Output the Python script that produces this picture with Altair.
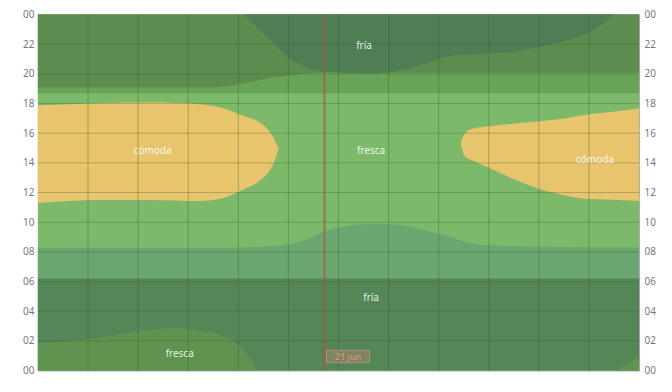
import altair as alt
import pandas as pd

MONTHS = ["ene.", "feb.", "mar.", "abr.", "may.", "jun.", "jul.", "ago.", "sep.", "oct.", "nov.", "dic."]
MONTH_CENTERS = [i + 0.5 for i in range(12)]
HOUR_TICKS = list(range(0, 25, 2))
MONTH_BOUNDS = list(range(1, 12))
HOUR_GRID = list(range(2, 24, 2))

# cómoda, left blob (x in months from 1 Jan, hours)
com1_x = [0, 1.23, 2.23, 3.22, 3.70, 4.12, 4.42, 4.62, 4.74, 4.80]
com1_top = [17.88, 18.02, 18.08, 17.95, 17.68, 17.14, 16.74, 16.13, 15.46, 14.95]
com1_bot = [11.29, 11.50, 11.50, 11.43, 11.63, 12.24, 12.77, 13.45, 14.25, 14.90]

# cómoda, right blob
com2_x = [8.44, 8.52, 8.70, 9.01, 9.59, 10.01, 10.39, 11.00, 11.58, 12.0]
com2_top = [15.30, 16.0, 16.34, 16.47, 16.67, 16.81, 16.94, 17.28, 17.48, 17.68]
com2_bot = [15.25, 14.45, 14.12, 13.65, 12.77, 12.24, 11.90, 11.56, 11.50, 11.43]

# morning twilight / fría (lower band) upper boundary
teal_x = [0, 3.22, 4.48, 5.15, 5.89, 6.69, 7.20, 7.68, 8.16, 8.80, 9.99, 12]
teal_top = [8.27, 8.27, 8.34, 8.61, 9.55, 9.88, 9.82, 9.48, 9.08, 8.47, 8.34, 8.30]

# night (early hours) upper boundary
night_lo_x = [0, 12]
night_lo_top = [6.2, 6.2]

# fresca under night, bottom-left bump
bump_x = [0, 0.84, 1.63, 2.23, 2.73, 3.22, 3.72, 4.12, 4.38]
bump_top = [1.85, 2.05, 2.42, 2.75, 2.85, 2.70, 2.29, 1.34, 0.0]

# small corner bottom-right
corner_x = [11.55, 12.0]
corner_top = [0.0, 1.0]

# evening twilight lower boundary
tw_hi_x = [0, 12]
tw_hi_bot = [18.7, 18.7]

# evening night lower boundary
night_hi_x = [0, 3.5, 4.8, 5.7, 12]
night_hi_bot = [19.1, 19.1, 19.8, 20.1, 20.1]

# fría (top) lower boundary
fria_x = [4.10, 4.52, 5.03, 5.69, 6.69, 7.68, 8.16, 9.49, 10.49, 11.14, 11.50]
fria_bot = [24.0, 22.66, 21.03, 20.16, 20.03, 20.64, 21.18, 21.5, 22.2, 23.05, 24.0]

label_text = ["fría", "cómoda", "fresca", "cómoda", "fría", "fresca"]
label_x = [6.51, 2.29, 6.65, 11.12, 6.65, 2.83]
label_y = [21.85, 14.79, 14.79, 14.18, 4.91, 1.14]

marker_x = [5.72]
marker_label = ["21 jun"]

W, H = 603, 357
xs = alt.Scale(domain=[0, 12], nice=False, zero=False)
ys = alt.Scale(domain=[0, 24], nice=False, zero=False)


def band(x, lo, hi, color):
    df = pd.DataFrame({"x": x, "lo": lo, "hi": hi})
    return alt.Chart(df).mark_area(color=color, interpolate="monotone", opacity=1).encode(
        x=alt.X("x:Q", scale=xs, axis=None),
        y=alt.Y("hi:Q", scale=ys, axis=None),
        y2="lo:Q",
    )


base_df = pd.DataFrame({"x": [0, 12], "lo": [0, 0], "hi": [24, 24]})
y_lab = "datum.value == 24 ? '00' : (datum.value < 10 ? '0' + datum.value : '' + datum.value)"
month_expr = "[" + ",".join("'%s'" % m for m in MONTHS) + "][floor(datum.value)]"

base = alt.Chart(base_df).mark_area(color="#7db96a").encode(
    x=alt.X("x:Q", scale=xs, axis=alt.Axis(values=MONTH_CENTERS, labelExpr=month_expr, title=None,
                                              ticks=False, domain=False, grid=False,
                                              labelColor="#3a6cc6", labelFontSize=10.5, labelPadding=5)),
    y=alt.Y("hi:Q", scale=ys, axis=alt.Axis(values=HOUR_TICKS, labelExpr=y_lab, title=None, orient="left",
                                               ticks=False, domain=False, grid=False,
                                               labelColor="#777", labelFontSize=10, labelPadding=4)),
    y2="lo:Q",
)

right_axis = alt.Chart(base_df).mark_area(opacity=0).encode(
    x=alt.X("x:Q", scale=xs, axis=None),
    y=alt.Y("hi:Q", scale=ys, axis=alt.Axis(values=HOUR_TICKS, labelExpr=y_lab, title=None, orient="right",
                                               ticks=False, domain=False, grid=False,
                                               labelColor="#777", labelFontSize=10, labelPadding=5)),
    y2="lo:Q",
)

layers = [
    base,
    band(teal_x, [0] * len(teal_x), teal_top, "#6ba670"),
    band(night_lo_x, [0, 0], night_lo_top, "#548657"),
    band(bump_x, [0] * len(bump_x), bump_top, "#5f934f"),
    band(corner_x, [0, 0], corner_top, "#5f934f"),
    band(tw_hi_x, tw_hi_bot, [24, 24], "#68a357"),
    band(night_hi_x, night_hi_bot, [24] * len(night_hi_x), "#5d8c4f"),
    band(fria_x, fria_bot, [24] * len(fria_x), "#4f7e55"),
    band(com1_x, com1_bot, com1_top, "#e8c46c"),
    band(com2_x, com2_bot, com2_top, "#e8c46c"),
]

vgrid = alt.Chart(pd.DataFrame({"x": MONTH_BOUNDS})).mark_rule(color="#2f5a2f", opacity=0.35, strokeWidth=1).encode(
    x=alt.X("x:Q", scale=xs, axis=None), y=alt.value(0), y2=alt.value(H))
hgrid = alt.Chart(pd.DataFrame({"y": HOUR_GRID})).mark_rule(color="#2f5a2f", opacity=0.3, strokeWidth=1).encode(
    y=alt.Y("y:Q", scale=ys, axis=None), x=alt.value(0), x2=alt.value(W))

marker = alt.Chart(pd.DataFrame({"x": marker_x})).mark_rule(color="#a8573e", opacity=0.7, strokeWidth=2).encode(
    x=alt.X("x:Q", scale=xs, axis=None), y=alt.value(0), y2=alt.value(H))

mk_df = pd.DataFrame({"x": [marker_x[0] + 0.04], "x2": [marker_x[0] + 0.9], "y": [0.52], "y2": [1.36],
                      "t": marker_label, "tx": [marker_x[0] + 0.47], "ty": [0.94]})
mk_box = alt.Chart(mk_df).mark_rect(fill="#d9897a", fillOpacity=0.3, stroke="#e49888", strokeOpacity=0.6).encode(
    x=alt.X("x:Q", scale=xs, axis=None), x2="x2:Q", y=alt.Y("y:Q", scale=ys, axis=None), y2="y2:Q")
mk_text = alt.Chart(mk_df).mark_text(color="#f09080", fontSize=9, font="Noto Sans").encode(
    x=alt.X("tx:Q", scale=xs, axis=None), y=alt.Y("ty:Q", scale=ys, axis=None), text="t:N")

labels = alt.Chart(pd.DataFrame({"x": label_x, "y": label_y, "t": label_text})).mark_text(
    color="white", opacity=0.85, fontSize=10, font="Noto Sans").encode(
    x=alt.X("x:Q", scale=xs, axis=None), y=alt.Y("y:Q", scale=ys, axis=None), text="t:N")

chart = alt.layer(*layers, vgrid, hgrid, marker, mk_box, mk_text, labels, right_axis).resolve_axis(
    y="independent").properties(
    width=W, height=H,
    autosize=alt.AutoSizeParams(type="none"),
    padding={"left": 30, "top": 6, "right": 25, "bottom": 20},
).configure_view(stroke="#aaa", strokeWidth=1).configure_axis(labelFont="Noto Sans")

chart.save("out.html", embed_options={"renderer": "svg", "actions": False})
